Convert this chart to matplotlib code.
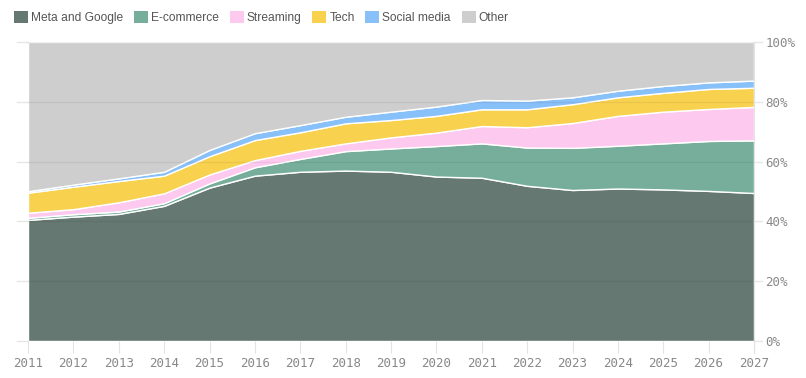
import matplotlib.pyplot as plt
import matplotlib.patches as mpatches
import numpy as np

years = list(range(2011, 2028))
labels = ['Meta and Google', 'E-commerce', 'Streaming', 'Tech', 'Social media', 'Other']
colors = ['#667872', '#76ae9b', '#fdc9ef', '#f8d24e', '#88c0fa', '#cecece']

meta = [40.5, 41.6, 42.5, 45.2, 51.3, 55.3, 56.6, 57.0, 56.6, 55.0, 54.6, 51.9, 50.5, 51.0, 50.7, 50.2, 49.5]
ecom = [0.7, 0.8, 0.8, 0.9, 1.4, 2.8, 4.3, 6.5, 7.8, 10.2, 11.5, 12.8, 14.1, 14.3, 15.4, 16.7, 17.6]
stream = [1.7, 1.7, 3.1, 3.3, 3.0, 2.4, 2.7, 2.6, 3.7, 4.5, 5.8, 6.8, 8.3, 10.0, 10.6, 10.7, 11.2]
tech = [6.7, 7.5, 7.1, 5.9, 6.1, 6.7, 6.2, 6.7, 5.8, 5.6, 5.6, 6.0, 6.3, 6.2, 6.3, 6.7, 6.4]
social = [0.5, 0.7, 0.9, 1.3, 2.1, 2.3, 2.4, 2.2, 2.8, 3.1, 3.1, 2.9, 2.3, 2.2, 2.3, 2.2, 2.4]
other = [100 - (a + b + c + d + e) for a, b, c, d, e in zip(meta, ecom, stream, tech, social)]

W, H = 806, 378
fig = plt.figure(figsize=(W / 100, H / 100), dpi=100)
ax = fig.add_axes([28 / W, 1 - 341 / H, (754 - 28) / W, (341 - 42) / H])

ax.stackplot(years, meta, ecom, stream, tech, social, other, colors=colors,
             edgecolor='white', linewidth=1.0)

ax.set_xlim(2011, 2027)
ax.set_ylim(0, 100)

# grid: faint over the areas, a bit stronger where it sticks out on white
for v in [0, 20, 40, 60, 80, 100]:
    ax.axhline(v, color='black', alpha=0.06, lw=1, zorder=5)
    ax.axhline(v, xmin=-11 / 726, xmax=0, color='#e6e6e6', lw=1, clip_on=False)
    ax.axhline(v, xmin=1, xmax=1 + 8 / 726, color='#e6e6e6', lw=1, clip_on=False)

for s in ['top', 'left', 'bottom']:
    ax.spines[s].set_visible(False)
ax.spines['right'].set_color('#e3e3e3')
ax.spines['right'].set_bounds(-4, 100)

ax.set_xticks(years)
ax.set_xticklabels([str(y) for y in years])
ax.yaxis.tick_right()
ax.set_yticks([0, 20, 40, 60, 80, 100])
ax.set_yticklabels(['0%', '20%', '40%', '60%', '80%', '100%'])
ax.tick_params(axis='x', length=8.6, color='#e3e3e3', pad=3, labelsize=9, labelcolor='#888888')
ax.tick_params(axis='y', length=0, pad=8, labelsize=9, labelcolor='#888888')
for t in ax.get_xticklabels() + ax.get_yticklabels():
    t.set_family('DejaVu Sans Mono')

handles = [mpatches.Patch(facecolor=c, edgecolor='none') for c in colors]
fig.legend(handles, labels, loc='upper left', bbox_to_anchor=(3 / W, 1), ncol=6,
           frameon=False, handlelength=1.17, handleheight=1.17, handletextpad=0.25,
           columnspacing=0.9, prop={'family': 'Liberation Sans', 'size': 8.65},
           labelcolor='#555555')

fig.savefig('out.png', dpi=100)
